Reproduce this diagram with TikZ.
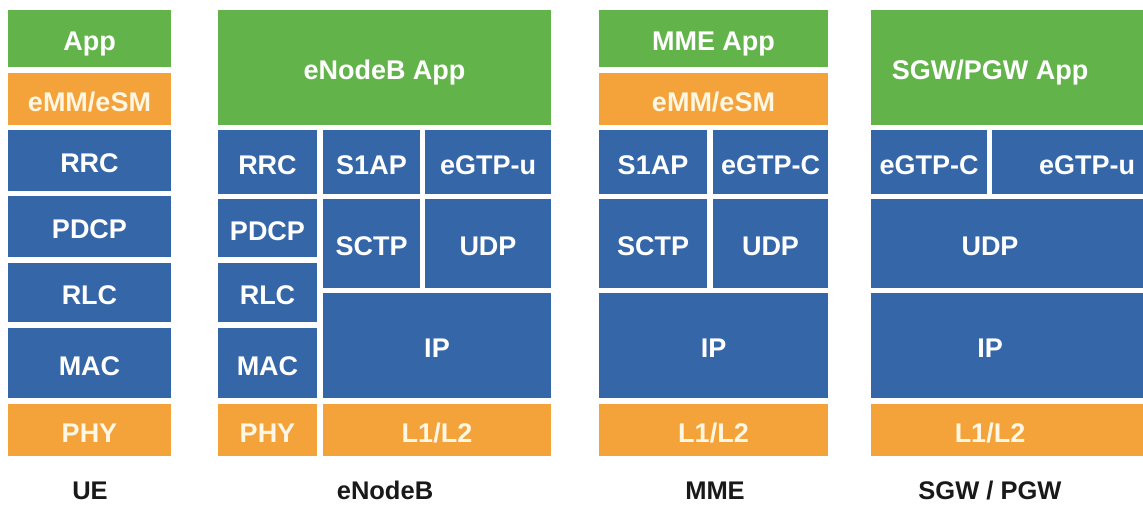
\documentclass[tikz,border=0pt]{standalone}
\usepackage{fontspec}
\setmainfont{Liberation Sans}
\definecolor{cgreen}{RGB}{98,180,74}
\definecolor{corange}{RGB}{243,163,58}
\definecolor{cblue}{RGB}{52,102,168}
\definecolor{ccream}{RGB}{255,246,228}
\tikzset{
  boxtxt/.style={font=\fontsize{27}{30}\selectfont\bfseries, text=white, inner sep=0pt, text height=19pt, text depth=0pt, anchor=center},
  orangetxt/.style={boxtxt, text=ccream},
  captxt/.style={font=\fontsize{25.5}{28}\selectfont\bfseries, text=black!90, inner sep=0pt, text height=18pt, text depth=0pt, anchor=center}
}
% \blk{name}{x1}{y1}{x2}{y2}{colour}{text style}{text}{text x}
\newcommand{\blk}[9]{%
  \fill[#6] (#2,#3) rectangle (#4,#5);
  \node[#7] (#1) at (#9,{(#3+#5)/2+2.5}) {#8};
}
\begin{document}
\begin{tikzpicture}[x=1pt,y=-1pt]
\useasboundingbox (0,0) rectangle (1143,504);
\fill[white] (0,0) rectangle (1143,504);
% ---------- UE ----------
\blk{ueapp}{8}{10}{171}{67}{cgreen}{boxtxt}{App}{89.5}
\blk{ueemm}{8}{73}{171}{125}{corange}{orangetxt}{eMM/eSM}{89.5}
\blk{uerrc}{8}{130}{171}{191}{cblue}{boxtxt}{RRC}{89.5}
\blk{uepdcp}{8}{196}{171}{257}{cblue}{boxtxt}{PDCP}{89.5}
\blk{uerlc}{8}{263}{171}{322}{cblue}{boxtxt}{RLC}{89.5}
\blk{uemac}{8}{328}{171}{398}{cblue}{boxtxt}{MAC}{89.5}
\blk{uephy}{8}{404}{171}{456}{corange}{orangetxt}{PHY}{89.5}
\node[captxt] (uelbl) at (90,490) {UE};
% ---------- eNodeB ----------
\blk{enbapp}{218}{10}{551}{125}{cgreen}{boxtxt}{eNodeB App}{384.5}
\blk{enbrrc}{218}{130}{317}{194}{cblue}{boxtxt}{RRC}{267.5}
\blk{enbs1ap}{323}{130}{420}{194}{cblue}{boxtxt}{S1AP}{371.5}
\blk{enbgtpu}{425}{130}{551}{194}{cblue}{boxtxt}{eGTP-u}{488}
\blk{enbpdcp}{218}{199}{317}{257}{cblue}{boxtxt}{PDCP}{267.5}
\blk{enbrlc}{218}{263}{317}{322}{cblue}{boxtxt}{RLC}{267.5}
\blk{enbmac}{218}{328}{317}{398}{cblue}{boxtxt}{MAC}{267.5}
\blk{enbphy}{218}{404}{317}{456}{corange}{orangetxt}{PHY}{267.5}
\blk{enbsctp}{323}{199}{420}{288}{cblue}{boxtxt}{SCTP}{371.5}
\blk{enbudp}{425}{199}{551}{288}{cblue}{boxtxt}{UDP}{488}
\blk{enbip}{323}{293}{551}{398}{cblue}{boxtxt}{IP}{437}
\blk{enbl12}{323}{404}{551}{456}{corange}{orangetxt}{L1/L2}{437}
\node[captxt] (enblbl) at (385,490) {eNodeB};
% ---------- MME ----------
\blk{mmeapp}{599}{10}{828}{67}{cgreen}{boxtxt}{MME App}{713.5}
\blk{mmeemm}{599}{73}{828}{125}{corange}{orangetxt}{eMM/eSM}{713.5}
\blk{mmes1ap}{599}{130}{707}{194}{cblue}{boxtxt}{S1AP}{653}
\blk{mmegtpc}{713}{130}{828}{194}{cblue}{boxtxt}{eGTP-C}{770.5}
\blk{mmesctp}{599}{199}{707}{288}{cblue}{boxtxt}{SCTP}{653}
\blk{mmeudp}{713}{199}{828}{288}{cblue}{boxtxt}{UDP}{770.5}
\blk{mmeip}{599}{293}{828}{398}{cblue}{boxtxt}{IP}{713.5}
\blk{mmel12}{599}{404}{828}{456}{corange}{orangetxt}{L1/L2}{713.5}
\node[captxt] (mmelbl) at (715,490) {MME};
% ---------- SGW / PGW ----------
\blk{gwapp}{871}{10}{1160}{125}{cgreen}{boxtxt}{SGW/PGW App}{990}
\blk{gwgtpc}{871}{130}{987}{194}{cblue}{boxtxt}{eGTP-C}{929}
\blk{gwgtpu}{992}{130}{1160}{194}{cblue}{boxtxt}{eGTP-u}{1087}
\blk{gwudp}{871}{199}{1160}{288}{cblue}{boxtxt}{UDP}{990}
\blk{gwip}{871}{293}{1160}{398}{cblue}{boxtxt}{IP}{990}
\blk{gwl12}{871}{404}{1160}{456}{corange}{orangetxt}{L1/L2}{990}
\node[captxt] (gwlbl) at (990,490) {SGW / PGW};
\end{tikzpicture}
\end{document}
